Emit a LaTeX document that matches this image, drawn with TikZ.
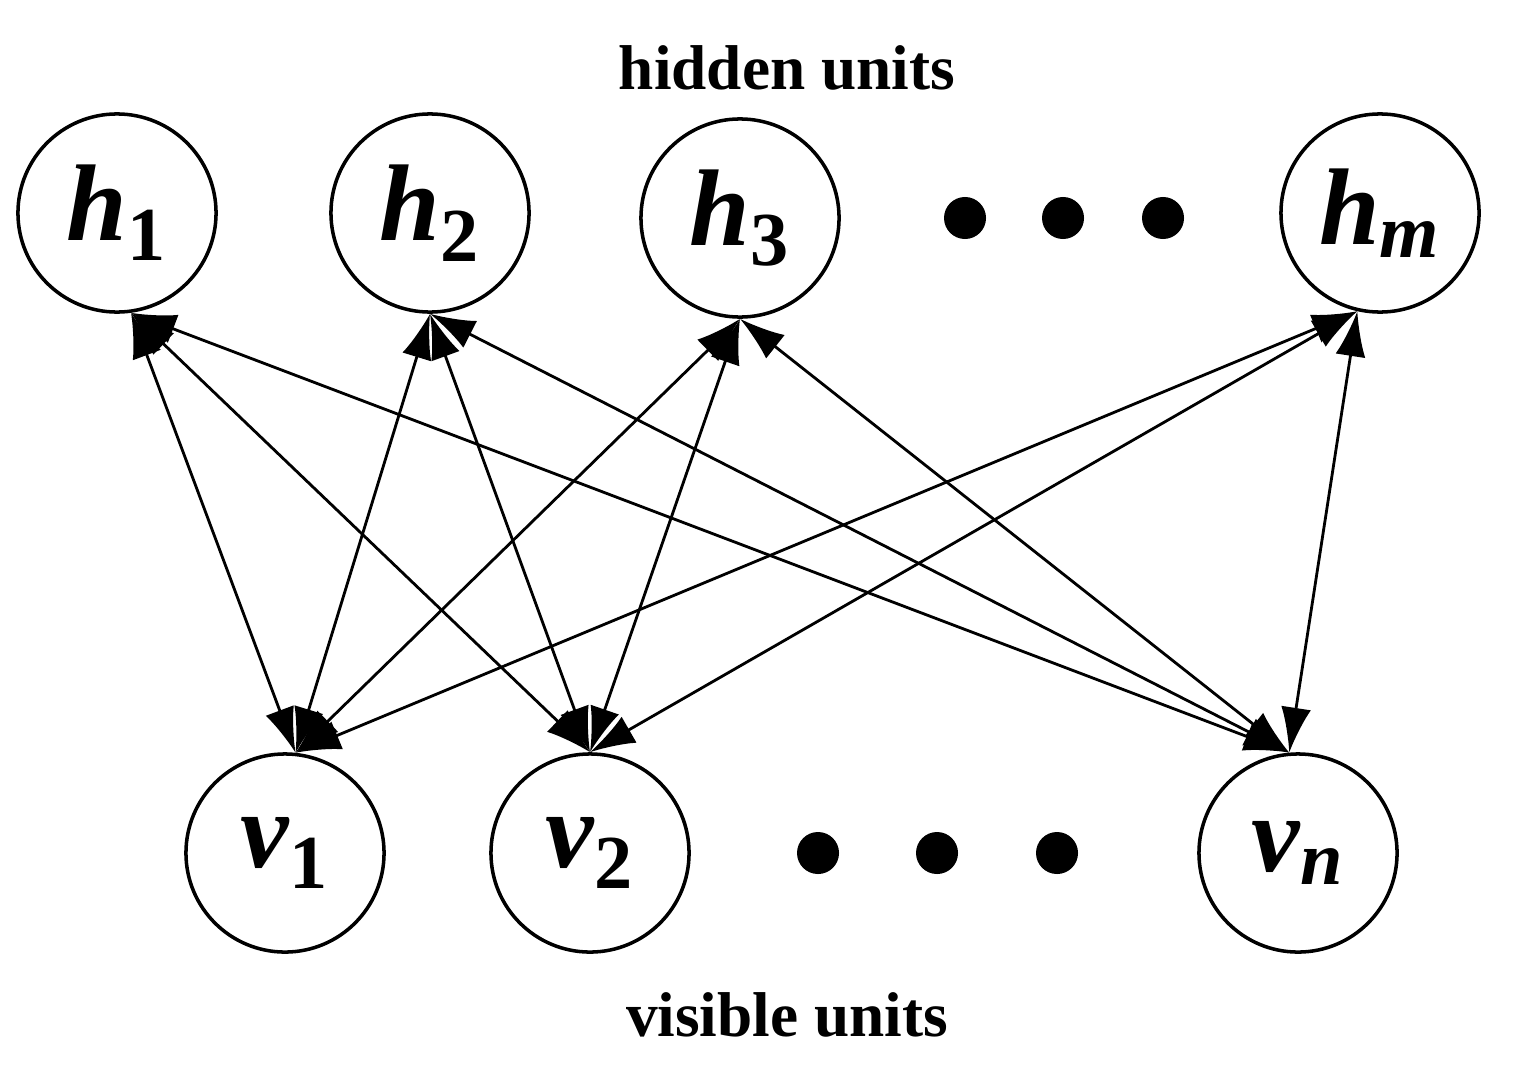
\documentclass[tikz,border=0pt]{standalone}
\usepackage{fontspec}
\setmainfont{Liberation Serif}
\usetikzlibrary{arrows.meta}
\begin{document}
\begin{tikzpicture}[x=0.01cm,y=-0.01cm,
  unit/.style={circle,draw,line width=1pt,minimum size=1.98cm,inner sep=0pt,font=\fontsize{31}{34}\selectfont\bfseries\itshape},
  dot/.style={circle,fill,inner sep=0pt,minimum size=0.42cm},
  lbl/.style={font=\fontsize{18}{22}\selectfont\bfseries},
  conn/.style={{Latex[length=0.45cm,width=0.3cm]}-{Latex[length=0.45cm,width=0.3cm]},line width=0.8pt}]
\useasboundingbox (0,0) rectangle (1513,1091);
\node[lbl] (th) at (787,68) {hidden units};
\node[lbl] (tv) at (787,1015) {visible units};
\node[unit] (h1) at (117,213) {h\textsubscript{\upshape 1}};
\node[unit] (h2) at (430,213) {h\textsubscript{\upshape 2}};
\node[unit] (h3) at (740,218) {h\textsubscript{\upshape 3}};
\node[unit] (hm) at (1380,213) {h\textsubscript{m}};
\node[unit] (v1) at (285,853) {v\textsubscript{\upshape 1}};
\node[unit] (v2) at (590,853) {v\textsubscript{\upshape 2}};
\node[unit] (vn) at (1298,853) {v\textsubscript{n}};
\node[dot] (a1) at (965,218) {};
\node[dot] (a2) at (1063,218) {};
\node[dot] (a3) at (1163,218) {};
\node[dot] (b1) at (818,853) {};
\node[dot] (b2) at (937,853) {};
\node[dot] (b3) at (1057,853) {};
\coordinate (ph1) at (h1.-82);
\coordinate (ph2) at (h2.-90);
\coordinate (ph3) at (h3.-90);
\coordinate (phm) at (hm.-103);
\coordinate (pv1) at (v1.84);
\coordinate (pv2) at (v2.90);
\coordinate (pvn) at (vn.95);
\foreach \h in {ph1,ph2,ph3,phm}
  \foreach \v in {pv1,pv2,pvn}
    \draw[conn] (\h) -- (\v);
\end{tikzpicture}
\end{document}
